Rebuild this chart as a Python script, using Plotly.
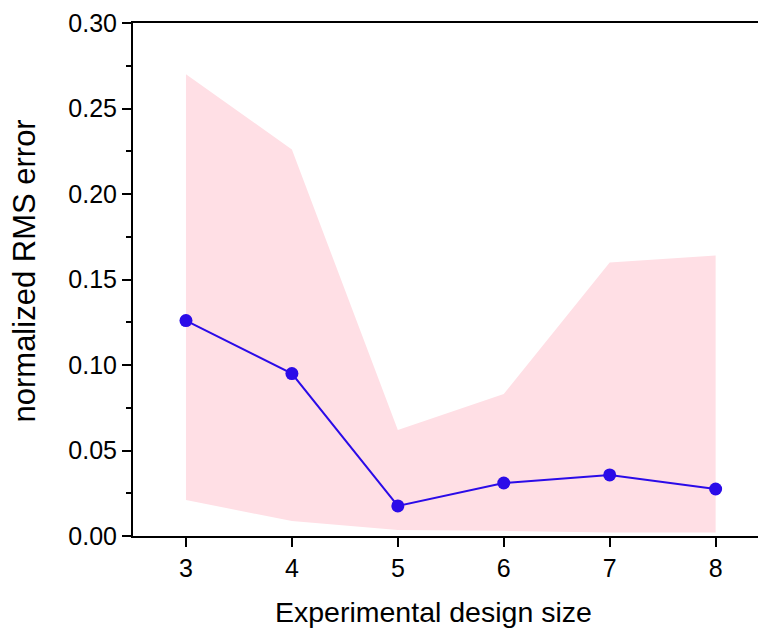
import plotly.graph_objects as go

design_size = [3, 4, 5, 6, 7, 8]
mean_err = [0.126, 0.095, 0.0176, 0.031, 0.0357, 0.0275]
upper_err = [0.270, 0.226, 0.062, 0.083, 0.160, 0.164]
lower_err = [0.021, 0.0088, 0.0035, 0.003, 0.002, 0.002]

band_color = "#FFDFE5"
line_color = "#2B0BE8"
font_family = "Liberation Sans, Arial, sans-serif"

fig = go.Figure()
fig.add_trace(go.Scatter(x=design_size, y=upper_err, mode="lines",
                         line=dict(width=0), hoverinfo="skip", showlegend=False))
fig.add_trace(go.Scatter(x=design_size, y=lower_err, mode="lines",
                         line=dict(width=0), fill="tonexty", fillcolor=band_color,
                         hoverinfo="skip", showlegend=False))
fig.add_trace(go.Scatter(x=design_size, y=mean_err, mode="lines+markers",
                         line=dict(color=line_color, width=2),
                         marker=dict(color=line_color, size=13),
                         showlegend=False))

fig.update_layout(
    width=758, height=630,
    margin=dict(l=133, r=0, t=23, b=94),
    plot_bgcolor="white", paper_bgcolor="white",
    font=dict(family=font_family, color="black"),
    xaxis=dict(
        range=[2.5, 8.4], tickvals=design_size,
        ticks="outside", ticklen=9, tickwidth=2, tickcolor="black",
        showline=True, linewidth=2, linecolor="black", mirror=True,
        showgrid=False, zeroline=False,
        tickfont=dict(size=25),
    ),
    yaxis=dict(
        range=[0, 0.30], tickvals=[0, 0.05, 0.10, 0.15, 0.20, 0.25, 0.30],
        tickformat=".2f",
        ticks="outside", ticklen=9, tickwidth=2, tickcolor="black",
        minor=dict(dtick=0.025, ticks="outside", ticklen=5, tickwidth=2, tickcolor="black"),
        showline=True, linewidth=2, linecolor="black",
        showgrid=False, zeroline=False,
        tickfont=dict(size=25),
    ),
    annotations=[
        dict(text="Experimental design size", xref="paper", yref="paper",
             x=0.48, y=-0.148, xanchor="center", yanchor="middle",
             showarrow=False, font=dict(size=28.5)),
        dict(text="normalized RMS error", xref="paper", yref="paper",
             x=-0.1744, y=0.5156, xanchor="center", yanchor="middle",
             textangle=-90, showarrow=False, font=dict(size=31)),
    ],
)

fig.write_html("out.html")
